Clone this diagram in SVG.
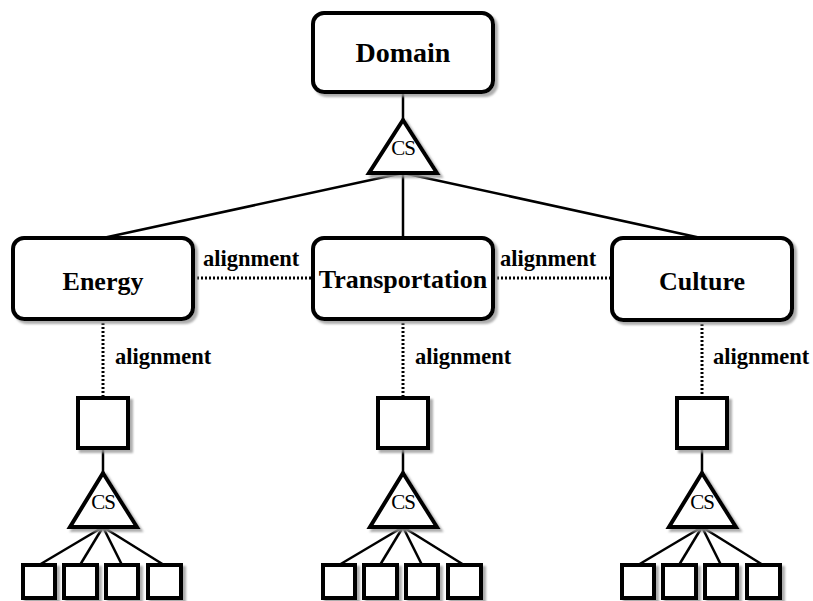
<svg xmlns="http://www.w3.org/2000/svg" width="813" height="601" viewBox="0 0 813 601">
  <style>
    .box { fill: #fff; stroke: #000; stroke-width: 4; filter: url(#shadow); }
    .tri { fill: #fff; stroke: #000; stroke-width: 4; stroke-linejoin: miter; filter: url(#shadow); }
    .sq { fill: #fff; stroke: #000; stroke-width: 4; filter: url(#shadow); }
    .edge { stroke: #000; stroke-width: 2.5; fill: none; }
    .dot { stroke: #000; stroke-width: 3; stroke-dasharray: 2 2; fill: none; }
    .title { font-family: "Liberation Serif", "Times New Roman", serif; font-weight: bold; font-size: 26px; text-anchor: middle; }
    .lbl { font-family: "Liberation Serif", "Times New Roman", serif; font-weight: bold; font-size: 22.5px; }
    .cs { font-family: "Liberation Serif", "Times New Roman", serif; font-size: 21px; text-anchor: middle; letter-spacing: -1px; }
  </style>
  <defs>
    <filter id="shadow" x="-20%" y="-20%" width="150%" height="150%">
      <feDropShadow dx="3" dy="3" stdDeviation="1" flood-color="#999" flood-opacity="0.8"/>
    </filter>
    <!-- a CS sub-tree: square, triangle and four leaves, centred on x=0 -->
    <g id="subtree">
      <line class="edge" x1="0" y1="448" x2="0" y2="473"/>
      <line class="edge" x1="0" y1="527" x2="-64" y2="565"/>
      <line class="edge" x1="0" y1="527" x2="-23" y2="565"/>
      <line class="edge" x1="0" y1="527" x2="19" y2="565"/>
      <line class="edge" x1="0" y1="527" x2="61" y2="565"/>
      <rect class="sq" x="-25" y="398" width="50" height="50"/>
      <polygon class="tri" points="0,473 -33,527 34,527"/>
      <text class="cs" x="0" y="509">CS</text>
      <rect class="sq" x="-80" y="565" width="32" height="33"/>
      <rect class="sq" x="-39" y="565" width="33" height="33"/>
      <rect class="sq" x="3" y="565" width="32" height="33"/>
      <rect class="sq" x="45" y="565" width="33" height="33"/>
    </g>
  </defs>

  <g id="connectors">
    <line class="edge" x1="403" y1="92" x2="403" y2="120"/>
    <line class="edge" x1="403" y1="173" x2="103" y2="238"/>
    <line class="edge" x1="403" y1="173" x2="403" y2="238"/>
    <line class="edge" x1="403" y1="173" x2="701" y2="238"/>
    <line class="dot" x1="193" y1="278" x2="313" y2="278"/>
    <line class="dot" x1="493" y1="278" x2="612" y2="278"/>
    <line class="dot" x1="103" y1="319" x2="103" y2="398"/>
    <line class="dot" x1="403" y1="319" x2="403" y2="398"/>
    <line class="dot" x1="702" y1="320" x2="702" y2="398"/>
    <text class="lbl" x="203" y="266">alignment</text>
    <text class="lbl" x="500" y="266">alignment</text>
    <text class="lbl" x="115" y="364">alignment</text>
    <text class="lbl" x="415" y="364">alignment</text>
    <text class="lbl" x="713" y="364">alignment</text>
  </g>

  <g id="domain">
    <rect class="box" x="313" y="13" width="180" height="79" rx="11"/>
    <text class="title" x="403" y="62" style="font-size:28px">Domain</text>
  </g>
  <g id="cs-top">
    <polygon class="tri" points="403,120 369,173 437,173"/>
    <text class="cs" x="403" y="155">CS</text>
  </g>
  <g id="energy">
    <rect class="box" x="13" y="238" width="180" height="81" rx="11"/>
    <text class="title" x="103" y="290">Energy</text>
  </g>
  <g id="transportation">
    <rect class="box" x="313" y="238" width="180" height="81" rx="11"/>
    <text class="title" x="403" y="288">Transportation</text>
  </g>
  <g id="culture">
    <rect class="box" x="612" y="238" width="180" height="82" rx="11"/>
    <text class="title" x="702" y="290">Culture</text>
  </g>
  <g id="energy-tree">
    <use href="#subtree" transform="translate(103,0)"/>
  </g>
  <g id="transportation-tree">
    <use href="#subtree" transform="translate(403,0)"/>
  </g>
  <g id="culture-tree">
    <use href="#subtree" transform="translate(702,0)"/>
  </g>
</svg>
